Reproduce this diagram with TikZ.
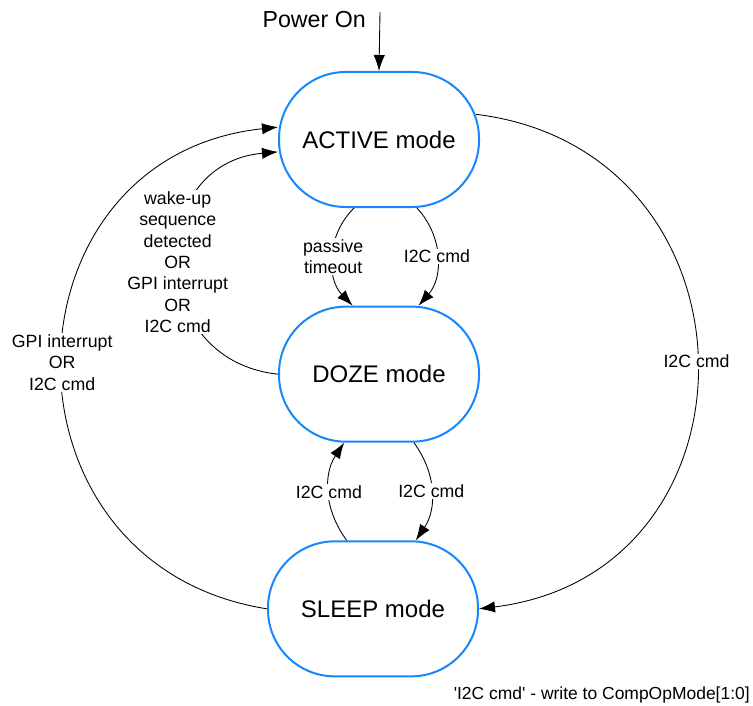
\documentclass[tikz,border=0pt]{standalone}
\usepackage{fontspec}
\setmainfont{Liberation Sans}
\usepackage{tikz}
\usetikzlibrary{arrows.meta,positioning}
\definecolor{modeblue}{RGB}{22,136,250}
\tikzset{
->, % every edge is directed
>={Latex[length=12pt,width=8.5pt]}, % filled arrow heads
x=0.75pt, y=0.75pt, % one unit per pixel of the sketch
node distance=176pt, % centre to centre between two modes
mode/.style={draw=modeblue, line width=1.5pt, rectangle, rounded corners=50pt, minimum width=150pt, minimum height=101.25pt, font=\fontsize{18}{21}\selectfont}, % the mode boxes
cond/.style={fill=white, align=center, inner sep=1pt, font=\fontsize{13.3}{16.1}\selectfont}, % text on a transition
every edge/.append style={line width=0.65pt}, % thin black transitions
}

\begin{document}
\begin{tikzpicture}
		\useasboundingbox (0,0) rectangle (753,-706);
		\node[mode] (active) at (379,-139.5) {ACTIVE mode};
		\node[mode, below of=active] (doze) {DOZE mode};
		\node[mode, below of=doze, xshift=-4.5pt, minimum width=157.5pt] (sleep) {SLEEP mode};
		\coordinate (pwr) at (380,-12);
		\node[anchor=base east, inner sep=0pt, font=\fontsize{17.4}{20}\selectfont] (poweron) at (366,-28) {Power On};
		\node[anchor=base east, inner sep=0pt, font=\fontsize{13.1}{16}\selectfont] (footnote) at (750,-699) {\textquotesingle I2C cmd\textquotesingle{} - write to CompOpMode[1:0]};
		\path (pwr) edge (active.north)
			(active.250) edge[bend right=45] node[cond] {passive\\timeout} (doze.111)
			(active.299) edge[bend left=42] node[cond] {I2C cmd} (doze.60)
			(doze.west) edge[out=174, in=185, looseness=1.55] node[cond] {wake-up\\sequence\\detected\\OR\\GPI interrupt\\OR\\I2C cmd} (active.187)
			([xshift=-3pt]active.14) edge[out=-7, in=7, looseness=1.52] node[cond] {I2C cmd} (sleep.east)
			(sleep.west) edge[out=171, in=186, looseness=1.5] node[cond] {GPI interrupt\\OR\\I2C cmd} (active.173)
			(doze.297) edge[bend left=35] node[cond] {I2C cmd} (sleep.58)
			(sleep.111) edge[bend left=35] node[cond] {I2C cmd} (doze.243);
	\end{tikzpicture}
\end{document}
